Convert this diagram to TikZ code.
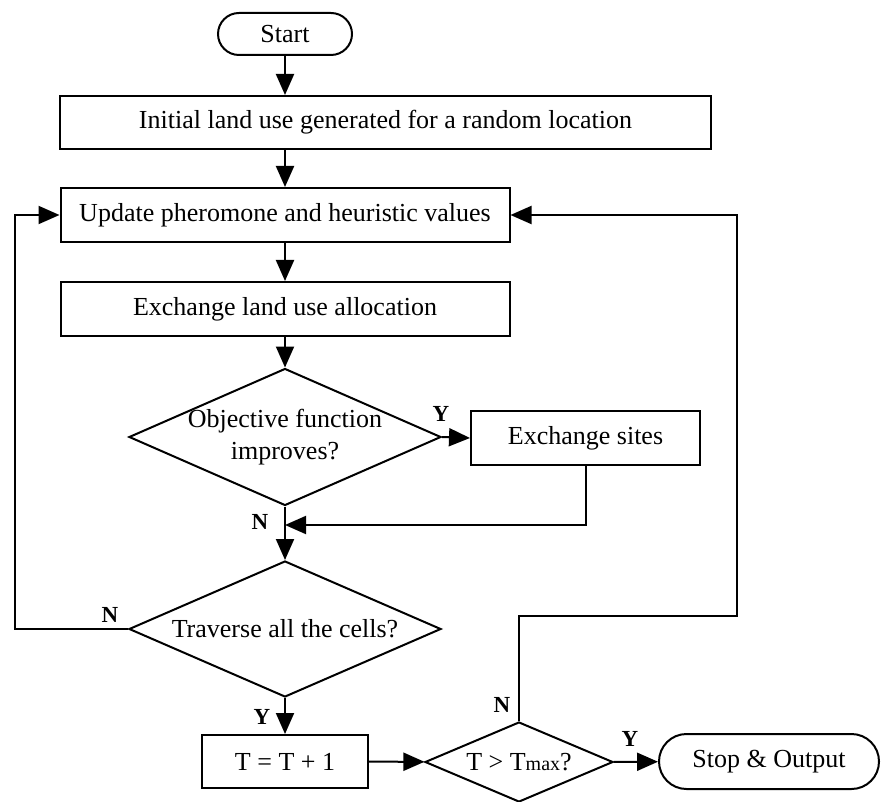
\documentclass[tikz,border=0pt]{standalone}
\usepackage{fontspec}
\setmainfont{Liberation Serif}
\usetikzlibrary{arrows.meta,shapes.geometric,shapes.misc}

\tikzset{
  proc/.style={draw,line width=1pt,rectangle,inner sep=0pt,align=center},
  term/.style={draw,line width=1pt,rounded rectangle,inner sep=0pt},
  dec/.style={draw,line width=1pt,diamond,aspect=2.3,inner sep=-4pt,align=center},
  flow/.style={line width=1pt,-{Triangle[length=10.5pt,width=9pt]}},
  yn/.style={font=\fontsize{11.5}{13}\selectfont\bfseries}
}

\begin{document}
\begin{tikzpicture}[x=0.5pt,y=-0.5pt,font=\fontsize{13}{16}\selectfont]
\useasboundingbox (0,0) rectangle (881,801);
\node[term,minimum width=67pt,minimum height=21pt] (start) at (285,34) {Start};
\node[proc,minimum width=325.5pt,minimum height=26.5pt] (init) at (385.5,122.5) {Initial land use generated for a random location};
\node[proc,minimum width=224.5pt,minimum height=27pt] (upd) at (285,215) {Update pheromone and heuristic values};
\node[proc,minimum width=224.5pt,minimum height=27pt] (exch) at (285,309) {Exchange land use allocation};
\node[dec,minimum width=156pt,minimum height=68.5pt] (obj) at (285,437) {Objective function\\improves?};
\node[proc,minimum width=114.5pt,minimum height=27pt] (sites) at (585.5,438) {Exchange sites};
\node[dec,minimum width=156pt,minimum height=68pt] (trav) at (285,629) {Traverse all the cells?};
\node[proc,minimum width=83pt,minimum height=26.5pt] (inc) at (285,761.5) {T = T + 1};
\node[dec,minimum width=94pt,minimum height=40pt] (tmax) at (519,762) {T > T{\fontsize{10}{11}\selectfont max}?};
\node[term,minimum width=110pt,minimum height=27.5pt] (stop) at (769,761.5) {Stop \& Output};
\coordinate (mrg) at (285,525);
\coordinate (lft) at (15,629);
\coordinate (top) at (519,616);
\coordinate (rgt) at (737,616);
% main column
\draw [flow] (start.south) -- (start.south |- init.north);
\draw [flow] (upd.north |- init.south) -- (upd.north);
\draw [flow] (upd) -- (exch);
\draw [flow] (exch) -- (obj);
\draw [flow] (obj.east) -- (sites.west);
\draw [flow] (sites.south) |- (mrg);
\draw [flow] (obj.south) -- (trav.north);
\draw [flow] (trav.south) -- (inc.north);
\draw [flow] (inc) -- (tmax);
\draw [flow] (tmax) -- (stop);
% loops back
\draw [flow] (trav.west) -- (lft) |- (upd.west);
\draw [flow] (tmax.north) -- (top) -- (rgt) |- (upd.east);
% Y / N
\node[yn] (y1) at (441,414) {Y};
\node[yn] (n1) at (260,522) {N};
\node[yn] (n2) at (110,615) {N};
\node[yn] (y2) at (262,717) {Y};
\node[yn] (n3) at (502,705) {N};
\node[yn] (y3) at (630,739) {Y};
\end{tikzpicture}
\end{document}
